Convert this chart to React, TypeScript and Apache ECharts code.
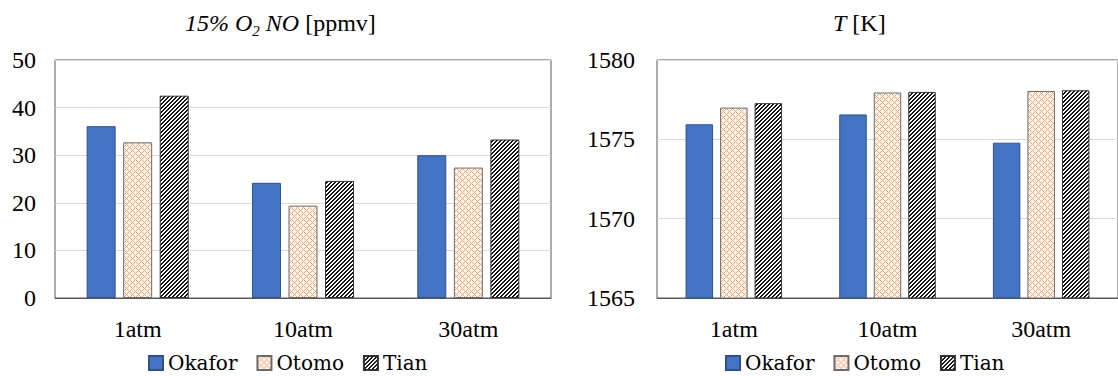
import React, { useEffect, useRef } from 'react';
import * as echarts from 'echarts';

const categories = ['1atm', '10atm', '30atm'];
const seriesNames = ['Okafor', 'Otomo', 'Tian'];
const noOkafor = [36.1, 24.2, 30.0];
const noOtomo = [32.7, 19.4, 27.4];
const noTian = [42.5, 24.6, 33.3];
const tOkafor = [1575.95, 1576.57, 1574.79];
const tOtomo = [1577.0, 1577.95, 1578.05];
const tTian = [1577.28, 1577.99, 1578.09];
const noAxis = { min: 0, max: 50, interval: 10 };
const tAxis = { min: 1565, max: 1580, interval: 5 };

const FONT = 'Liberation Serif';

function makeTile(size: number, fn: (x: number, y: number) => number[]) {
  const c = document.createElement('canvas');
  c.width = size;
  c.height = size;
  const ctx = c.getContext('2d')!;
  const img = ctx.createImageData(size, size);
  for (let y = 0; y < size; y++) {
    for (let x = 0; x < size; x++) {
      const [r, g, b] = fn(x, y);
      const i = (y * size + x) * 4;
      img.data[i] = r;
      img.data[i + 1] = g;
      img.data[i + 2] = b;
      img.data[i + 3] = 255;
    }
  }
  ctx.putImageData(img, 0, 0);
  return c;
}

export default function App() {
  const ref = useRef<HTMLDivElement>(null);
  useEffect(() => {
    if (!ref.current) return;
    const chart = echarts.init(ref.current, undefined, { renderer: 'svg' });

    const tianTile = makeTile(8, (x, y) => ((x + y) % 4 < 2 ? [20, 20, 20] : [255, 255, 255]));
    const otomoTile = makeTile(6, (x, y) =>
      (x + y) % 6 === 0 || (x - y + 6) % 6 === 0 ? [240, 165, 115] : [255, 246, 240]
    );
    const otomoFill: any = { image: otomoTile, repeat: 'repeat', imageWidth: 6, imageHeight: 6 };
    const tianFill: any = { image: tianTile, repeat: 'repeat', imageWidth: 8, imageHeight: 8 };

    const styles = [
      { color: '#4472C4', borderColor: '#2F528F', borderWidth: 1 },
      { color: otomoFill, borderColor: '#6b6b6b', borderWidth: 1 },
      { color: tianFill, borderColor: '#333333', borderWidth: 1 },
    ];

    const mk = (name: string, data: number[], idx: number, axis: number, bw: number, gap: string) => ({
      type: 'bar',
      name,
      data,
      xAxisIndex: axis,
      yAxisIndex: axis,
      barWidth: bw,
      barGap: gap,
      itemStyle: styles[idx],
      emphasis: { disabled: true },
    });

    const richSet = {
      i: { fontFamily: FONT, fontSize: 24, fontStyle: 'italic', fontWeight: 'normal', color: '#000', lineHeight: 30 },
      n: { fontFamily: FONT, fontSize: 24, fontWeight: 'normal', color: '#000', lineHeight: 30 },
      s: {
        fontFamily: FONT,
        fontSize: 15,
        fontStyle: 'italic',
        fontWeight: 'normal',
        color: '#000',
        lineHeight: 12,
        verticalAlign: 'bottom',
      },
    };
    const txt = { fontFamily: FONT, fontWeight: 'normal', fontSize: 24, color: '#000', rich: richSet };
    const wrapN = (v: any) => `{n|${v}}`;

    const legendBase = {
      data: seriesNames,
      itemWidth: 14,
      itemHeight: 14,
      itemGap: 19,
      padding: 0,
      icon: 'rect',
      top: 353,
      textStyle: { fontFamily: 'DejaVu Serif', fontSize: 20, color: '#000' },
    };

    const yBase = {
      type: 'value',
      axisLine: { show: false },
      axisTick: { show: false },
      splitLine: { lineStyle: { color: '#d9d9d9', width: 1 } },
    };

    chart.setOption({
      animation: false,
      textStyle: { fontFamily: FONT },
      title: [
        { text: '{i|15% O}{s|2}{i| NO}{n| [ppmv]}', left: 185, top: 8, padding: 0, textStyle: txt },
        { text: '{i|T}{n| [K]}', left: 833, top: 8, padding: 0, textStyle: txt },
      ],
      legend: [
        { ...legendBase, left: 148 },
        { ...legendBase, left: 725 },
      ],
      grid: [
        { left: 55, top: 60, width: 496, height: 238, show: true, borderColor: '#595959', borderWidth: 1 },
        { left: 657, top: 60, width: 470, height: 238, show: true, borderColor: '#595959', borderWidth: 1 },
      ],
      xAxis: [0, 1].map((g) => ({
        type: 'category',
        gridIndex: g,
        data: categories,
        axisTick: { show: false },
        axisLine: { lineStyle: { color: '#595959', width: 1 } },
        axisLabel: { ...txt, margin: 16, formatter: wrapN },
      })),
      yAxis: [
        { ...yBase, gridIndex: 0, ...noAxis, axisLabel: { ...txt, margin: 19, formatter: wrapN } },
        { ...yBase, gridIndex: 1, ...tAxis, axisLabel: { ...txt, margin: 22, formatter: wrapN } },
      ],
      series: [
        mk('Okafor', noOkafor, 0, 0, 29, '26%'),
        mk('Otomo', noOtomo, 1, 0, 29, '26%'),
        mk('Tian', noTian, 2, 0, 29, '26%'),
        mk('Okafor', tOkafor, 0, 1, 27.5, '25.5%'),
        mk('Otomo', tOtomo, 1, 1, 27.5, '25.5%'),
        mk('Tian', tTian, 2, 1, 27.5, '25.5%'),
      ],
    });
    return () => chart.dispose();
  }, []);
  return (
    <div
      ref={ref}
      style={{ position: 'absolute', left: 0, top: 0, width: 1118, height: 376, background: '#fff' }}
    />
  );
}
